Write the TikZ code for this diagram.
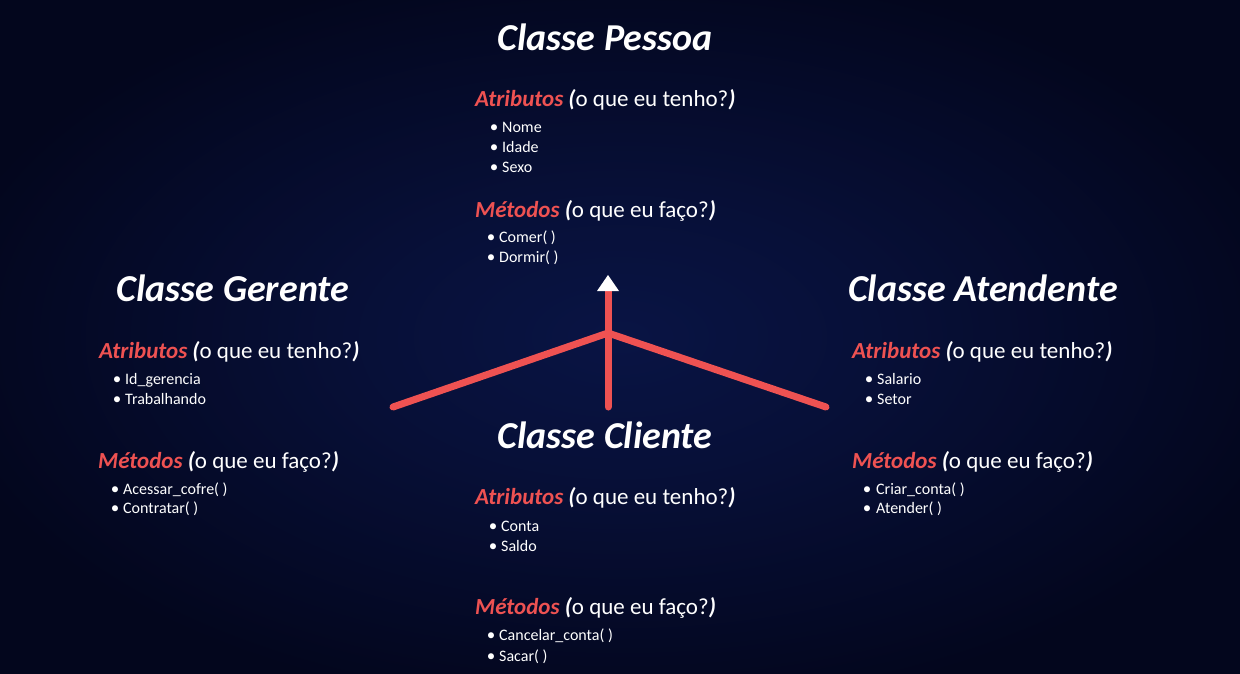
\documentclass[tikz,border=0pt]{standalone}
\usepackage{fontspec}
\setmainfont{Carlito}
\usetikzlibrary{arrows.meta}

\definecolor{bgout}{HTML}{03061D}
\definecolor{bgin}{HTML}{091444}
\definecolor{accent}{HTML}{EE5252}

% soft bluish glow in the middle of the dark background
\pgfdeclareradialshading{glow}{\pgfpoint{0bp}{0bp}}{%
  color(0bp)=(bgin); color(10bp)=(bgin!70!bgout); color(28bp)=(bgout); color(50bp)=(bgout)}

% section headings: red keyword, white explanation in parentheses
\newcommand\attrhead{{\color{accent}\bfseries\itshape Atributos} {\bfseries\itshape(}o que eu tenho?{\bfseries\itshape)}}
\newcommand\methhead{{\color{accent}\bfseries\itshape Métodos} {\bfseries\itshape(}o que eu faço?{\bfseries\itshape)}}

\begin{document}
\begin{tikzpicture}[x=1pt,y=-1pt,
  title/.style={anchor=base, text=white, inner sep=0pt,
    font=\fontsize{38}{40}\selectfont\bfseries\itshape},
  head/.style={anchor=base west, text=white, inner sep=0pt,
    font=\fontsize{23}{25}\selectfont},
  item/.style={anchor=base west, text=white, inner sep=0pt,
    font=\fontsize{16}{18}\selectfont},
  dot/.style={anchor=base, text=white, inner sep=0pt,
    font=\fontsize{17}{19}\selectfont},
  link/.style={draw=accent, line width=7pt, line cap=round}]

\useasboundingbox (0,0) rectangle (1240,674);
\shade[shading=glow] (0,0) rectangle (1240,674);

% ---- Classe Pessoa ----
\node[title] (pessoa) at (605,51) {Classe Pessoa};
\node[head] (pAttr) at (475,107) {\attrhead};
\node[dot] (pd1) at (494,133) {•}; \node[item] (pa1) at (502,133) {Nome};
\node[dot] (pd2) at (494,153) {•}; \node[item] (pa2) at (502,153) {Idade};
\node[dot] (pd3) at (494,173) {•}; \node[item] (pa3) at (502,173) {Sexo};
\node[head] (pMeth) at (475,217) {\methhead};
\node[dot] (pd4) at (491,242) {•}; \node[item] (pm1) at (499,242) {Comer( )};
\node[dot] (pd5) at (491,262) {•}; \node[item] (pm2) at (499,262) {Dormir( )};

% ---- Classe Gerente ----
\node[title] (gerente) at (233,301) {Classe Gerente};
\node[head] (gAttr) at (99,358) {\attrhead};
\node[dot] (gd1) at (117,384) {•}; \node[item] (ga1) at (125,384) {Id\_gerencia};
\node[dot] (gd2) at (117,404) {•}; \node[item] (ga2) at (125,404) {Trabalhando};
\node[head] (gMeth) at (98,468) {\methhead};
\node[dot] (gd3) at (115,494) {•}; \node[item] (gm1) at (123,494) {Acessar\_cofre( )};
\node[dot] (gd4) at (115,513) {•}; \node[item] (gm2) at (123,513) {Contratar( )};

% ---- Classe Atendente ----
\node[title] (atendente) at (983,301) {Classe Atendente};
\node[head] (aAttr) at (852,358) {\attrhead};
\node[dot] (ad1) at (869,384) {•}; \node[item] (aa1) at (877,384) {Salario};
\node[dot] (ad2) at (869,404) {•}; \node[item] (aa2) at (877,404) {Setor};
\node[head] (aMeth) at (852,468) {\methhead};
\node[dot] (ad3) at (867,494) {•}; \node[item] (am1) at (876,494) {Criar\_conta( )};
\node[dot] (ad4) at (867,513) {•}; \node[item] (am2) at (876,513) {Atender( )};

% ---- Classe Cliente ----
\node[title] (cliente) at (605,448) {Classe Cliente};
\node[head] (cAttr) at (475,504) {\attrhead};
\node[dot] (cd1) at (493,531) {•}; \node[item] (ca1) at (501,531) {Conta};
\node[dot] (cd2) at (493,551) {•}; \node[item] (ca2) at (501,551) {Saldo};
\node[head] (cMeth) at (475,614) {\methhead};
\node[dot] (cd3) at (491,640) {•}; \node[item] (cm1) at (499,640) {Cancelar\_conta( )};
\node[dot] (cd4) at (491,661) {•}; \node[item] (cm2) at (499,661) {Sacar( )};

% ---- inheritance connectors ----
\coordinate (hub) at (608,333);
\coordinate (gerEnd) at (393,407);
\coordinate (atEnd) at (826,407);
\coordinate (cliEnd) at (608,407);
\coordinate (tip) at (608,275);

\draw[link] (gerEnd) -- (hub) -- (atEnd);
\draw[link, -{Triangle[width=22pt,length=16pt,line width=0pt,color=white,fill=white]}]
  (cliEnd) -- (tip);

\end{tikzpicture}
\end{document}
